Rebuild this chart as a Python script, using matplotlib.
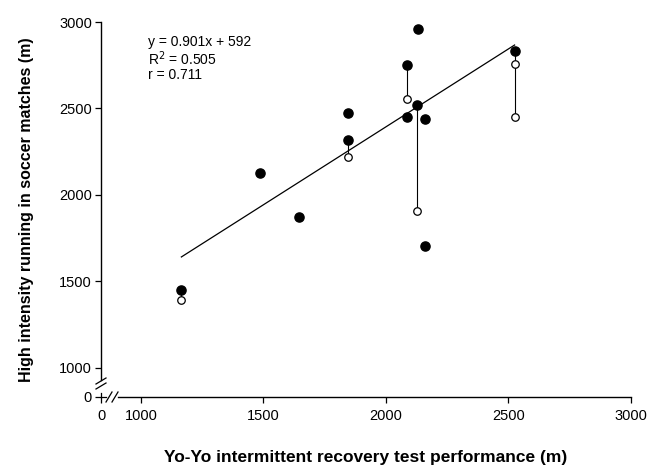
import numpy as np
import matplotlib
matplotlib.use("Agg")
import matplotlib.pyplot as plt

plt.rcParams["font.family"] = ["Liberation Sans", "DejaVu Sans"]

# filled circles: match running
match_x = [1165, 1485, 1645, 1845, 1845, 2085, 2085, 2125, 2130, 2160, 2160, 2525]
match_y = [1450, 2125, 1870, 2475, 2315, 2450, 2750, 2520, 2960, 2440, 1705, 2835]

# open circles: other matches of the same players
open_x = [1165, 1845, 2085, 2125, 2525, 2525]
open_y = [1395, 2220, 2555, 1905, 2760, 2450]

# vertical links (x, top, bottom)
link_x = [1165, 1845, 2085, 2125, 2525]
link_top = [1450, 2315, 2750, 2520, 2835]
link_bottom = [1395, 2220, 2555, 1905, 2450]

slope, intercept = 0.901, 592
fit_range = [1165, 2525]

x_ticks = [0, 1000, 1500, 2000, 2500, 3000]
y_ticks = [0, 1000, 1500, 2000, 2500, 3000]


def brokenScale(gap):
    # 0..1000 squeezed into gap units, linear afterwards
    def forward(v):
        v = np.asarray(v, dtype=float)
        return np.where(v < 1000, v * gap / 1000, v - 1000 + gap)

    def inverse(u):
        u = np.asarray(u, dtype=float)
        return np.where(u < gap, u * 1000 / gap, u + 1000 - gap)

    return forward, inverse


fig = plt.figure(figsize=(6.49, 4.70), dpi=100)
ax = fig.add_axes([101 / 649, 1 - 397 / 470, 530 / 649, 375 / 470])

ax.set_xscale("function", functions=brokenScale(163))
ax.set_yscale("function", functions=brokenScale(168))
ax.set_xlim(0, 3000)
ax.set_ylim(0, 3000)

for xv, top, bot in zip(link_x, link_top, link_bottom):
    ax.plot([xv, xv], [bot, top], color="black", lw=0.8, zorder=2)

fx = np.array(fit_range)
ax.plot(fx, slope * fx + intercept, color="black", lw=0.9, zorder=2)

ax.plot(open_x, open_y, "o", ms=5.4, mfc="white", mec="black", mew=0.9, zorder=3)
ax.plot(match_x, match_y, "o", ms=6.6, color="black", zorder=4)

ax.text(1030, 2790, "y = 0.901x + 592\nR$^2$ = 0.505\nr = 0.711",
        fontsize=10, va="center", ha="left", linespacing=1.0)

ax.spines["top"].set_visible(False)
ax.spines["right"].set_visible(False)
ax.spines["left"].set_bounds(600, 3000)
ax.spines["bottom"].set_bounds(430, 3000)
for s in ("left", "bottom"):
    ax.spines[s].set_linewidth(1.0)

ax.set_xticks(x_ticks)
ax.set_yticks(y_ticks)
ax.set_xticklabels([str(t) for t in x_ticks])
ax.set_yticklabels([str(t) for t in y_ticks])
ax.tick_params(direction="out", length=4, width=0.9, labelsize=10.5, pad=2.5)
ax.tick_params(axis="x", pad=5)
ax.minorticks_off()

# axis break marks and stubs, in pixel offsets from the corner
W, H = 530.0, 375.0


def seg(x0, y0, x1, y1):
    ax.plot([x0 / W, x1 / W], [y0 / H, y1 / H], color="black", lw=0.9,
            transform=ax.transAxes, clip_on=False, zorder=5)


seg(0, 0, 0, 4)
seg(0, 0, 5, 0)
for dy in (11, 16):
    seg(-5, dy - 3, 5, dy + 3)
for dx in (8, 14):
    seg(dx - 3, -5, dx + 3, 5)

ax.set_xlabel("Yo-Yo intermittent recovery test performance (m)",
              fontsize=12.5, fontweight="bold", labelpad=19)
ax.set_ylabel("High intensity running in soccer matches (m)",
              fontsize=11.5, fontweight="bold", labelpad=18)

fig.savefig("out.png", dpi=100)
